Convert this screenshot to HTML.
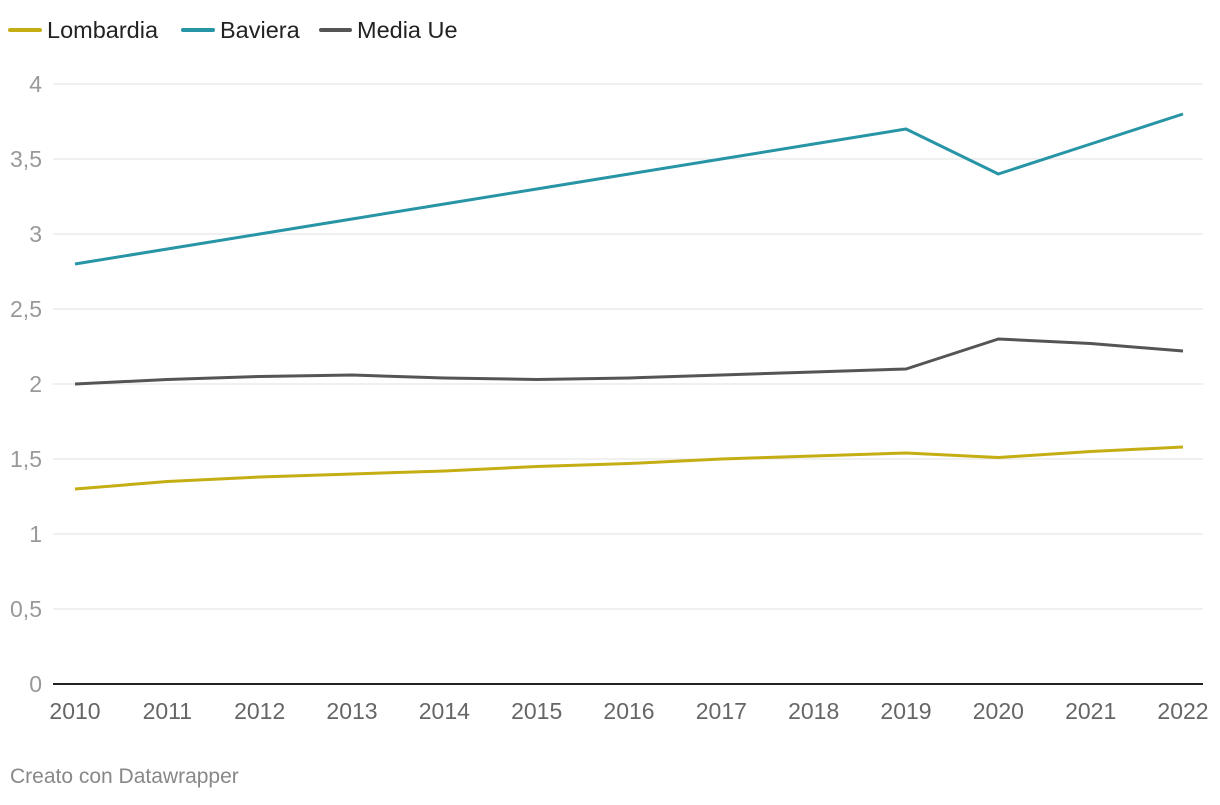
<!DOCTYPE html>
<html><head><meta charset="utf-8"><style>
body{margin:0;background:#fff;width:1220px;height:800px;overflow:hidden;font-family:"Liberation Sans",sans-serif}
</style></head><body>
<svg id="chart" width="1220" height="800" xmlns="http://www.w3.org/2000/svg">
<g id="legend">
 <g><line x1="10" y1="30" x2="40" y2="30" stroke="#c5ae13" stroke-width="4" stroke-linecap="round"/><text x="47" y="38" font-size="23.5" fill="#222">Lombardia</text></g>
 <g><line x1="183" y1="30" x2="213" y2="30" stroke="#2795a6" stroke-width="4" stroke-linecap="round"/><text x="220" y="38" font-size="23.5" fill="#222">Baviera</text></g>
 <g><line x1="321" y1="30" x2="350" y2="30" stroke="#555" stroke-width="4" stroke-linecap="round"/><text x="357" y="38" font-size="23.5" fill="#222">Media Ue</text></g>
</g>
<g id="grid"></g><g id="xt"></g><g id="lines"></g>
<text x="10" y="783" font-size="21" fill="#888">Creato con Datawrapper</text>
</svg>
<script>
const years=[2010,2011,2012,2013,2014,2015,2016,2017,2018,2019,2020,2021,2022];
const yTicks=[0,0.5,1,1.5,2,2.5,3,3.5,4];
const yTickLabels=["0","0,5","1","1,5","2","2,5","3","3,5","4"];
const lombardia=[1.3,1.35,1.38,1.4,1.42,1.45,1.47,1.5,1.52,1.54,1.51,1.55,1.58];
const baviera=[2.8,2.9,3.0,3.1,3.2,3.3,3.4,3.5,3.6,3.7,3.4,3.6,3.8];
const mediaUe=[2.0,2.03,2.05,2.06,2.04,2.03,2.04,2.06,2.08,2.1,2.3,2.27,2.22];
const NS="http://www.w3.org/2000/svg";
const x=i=>75+(1183-75)*i/(years.length-1);
const y=v=>684-150*v;
function mk(t,a,p){const e=document.createElementNS(NS,t);for(const k in a)e.setAttribute(k,a[k]);p.appendChild(e);return e;}
const g=document.getElementById('grid');
yTicks.forEach((v,i)=>{
 const l=mk('line',{x1:53,x2:1203,y1:y(v),y2:y(v),stroke:v===0?'#222':'#e0e0e0','stroke-width':v===0?2:1},g);
 
 
 const t=mk('text',{x:42,y:y(v)+8,'text-anchor':'end','font-size':23,fill:'#999'},g);t.textContent=yTickLabels[i];
 
 
});
const xt=document.getElementById('xt');
years.forEach((yr,i)=>{
 const t=mk('text',{x:x(i),y:719,'text-anchor':'middle','font-size':23,fill:'#666'},xt);t.textContent=yr;
 
 
});
const L=document.getElementById('lines');
[[lombardia,'#c5ae13','line-lombardia'],[mediaUe,'#555','line-media-ue'],[baviera,'#2795a6','line-baviera']].forEach(([d,c,n])=>{
 const p=mk('path',{d:d.map((v,i)=>(i?'L':'M')+x(i)+','+y(v)).join(''),fill:'none',stroke:c,'stroke-width':3,'stroke-linejoin':'round'},L);
 
 
});
</script>
</body></html>
